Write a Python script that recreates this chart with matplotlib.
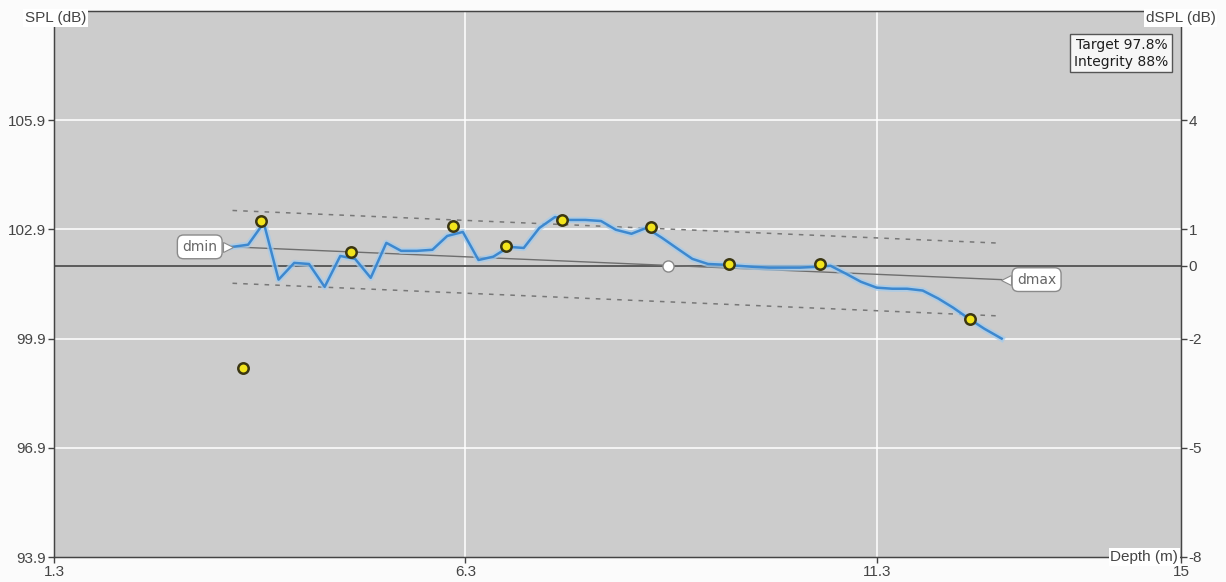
import matplotlib
matplotlib.use("Agg")
import matplotlib.pyplot as plt

# ---------------- data ----------------
depth = [3.47, 3.66, 3.85, 4.03, 4.22, 4.40, 4.59, 4.78, 4.96, 5.15,
         5.34, 5.52, 5.71, 5.90, 6.08, 6.27, 6.46, 6.64, 6.83, 7.01,
         7.20, 7.39, 7.57, 7.76, 7.95, 8.13, 8.32, 8.50, 8.69, 8.88,
         9.06, 9.25, 9.44, 9.62, 9.81, 9.99, 10.18, 10.37, 10.55, 10.74,
         10.93, 11.11, 11.30, 11.49, 11.67, 11.86, 12.05, 12.23, 12.42, 12.61,
         12.82]
spl = [102.42, 102.48, 103.08, 101.52, 101.98, 101.95, 101.32, 102.17, 102.09, 101.57,
       102.53, 102.31, 102.31, 102.34, 102.72, 102.83, 102.06, 102.15, 102.42, 102.39,
       102.94, 103.24, 103.16, 103.16, 103.13, 102.89, 102.78, 102.94, 102.67, 102.37,
       102.09, 101.95, 101.93, 101.90, 101.87, 101.85, 101.85, 101.85, 101.87, 101.90,
       101.68, 101.46, 101.30, 101.27, 101.27, 101.22, 101.00, 100.75, 100.45, 100.17,
       99.90]

pts_depth = [3.60, 3.82, 4.91, 6.15, 6.79, 7.48, 8.56, 9.51, 10.61, 12.43]
pts_spl = [99.08, 103.13, 102.28, 103.00, 102.45, 103.16, 102.97, 101.95, 101.95, 100.45]

trend_depth = [3.47, 12.82]
trend_spl = [102.42, 101.52]
band = 1.0
ref_level = 101.9
mid_depth = 8.76

x_ticks = [1.3, 6.3, 11.3, 15]
y_ticks = [93.9, 96.9, 99.9, 102.9, 105.9]
dy_ticks = [-8, -5, -2, 0, 1, 4]

target_txt = "Target 97.8%\nIntegrity 88%"

# ---------------- figure ----------------
W, H = 1226, 582
fig = plt.figure(figsize=(W / 100, H / 100), dpi=100, facecolor="#fbfbfb")
ax = fig.add_axes([54 / W, 1 - 557 / H, (1181 - 54) / W, (557 - 11) / H])
ax.set_facecolor("#cccccc")
ax.set_xlim(1.3, 15)
ax.set_ylim(93.9, 108.9)

axfont = "Liberation Sans"
tcol = "#444444"
for s in ax.spines.values():
    s.set_color(tcol)
    s.set_linewidth(1.0)

ax.set_xticks(x_ticks)
ax.set_xticklabels([f"{v:g}" for v in x_ticks], fontfamily=axfont, fontsize=11, color=tcol)
ax.set_yticks(y_ticks)
ax.set_yticklabels([f"{v:.1f}" for v in y_ticks], fontfamily=axfont, fontsize=11, color=tcol)
ax.tick_params(axis="both", direction="out", length=4, width=1, color=tcol, pad=1.5)

# grid (white)
for v in [96.9, 99.9, 102.9, 105.9]:
    ax.axhline(v, color="white", lw=1.1, zorder=1)
for v in [6.3, 11.3]:
    ax.axvline(v, color="white", lw=1.1, zorder=1)

# zero reference line
ax.axhline(ref_level, color="#5a5a5a", lw=1.4, zorder=2)

# trend and bands
ax.plot(trend_depth, trend_spl, color="#6e6e6e", lw=1.0, zorder=3)
ax.plot(trend_depth, [v + band for v in trend_spl], color="#777777", lw=1.1,
        ls=(0, (3, 4)), zorder=3)
ax.plot(trend_depth, [v - band for v in trend_spl], color="#777777", lw=1.1,
        ls=(0, (3, 4)), zorder=3)

# main series with soft glow
ax.plot(depth, spl, color="#a4cbec", lw=4.5, alpha=0.75, zorder=4, solid_joinstyle="round")
ax.plot(depth, spl, color="#3d88cf", lw=1.8, zorder=5, solid_joinstyle="round")

# yellow points
ax.plot(pts_depth, pts_spl, ls="none", marker="o", ms=7.5, mfc="#f2e41c",
        mec="#3b3612", mew=1.8, zorder=7)

# mid point
ax.plot([mid_depth], [ref_level], ls="none", marker="o", ms=8, mfc="white",
        mec="#888888", mew=1, zorder=7)

# dmin / dmax labels
lblfont = "DejaVu Sans"
ax.annotate("dmin", xy=(trend_depth[0], trend_spl[0]), xytext=(-11, 0),
            textcoords="offset points", ha="right", va="center",
            fontsize=10, fontfamily=lblfont, color="#666666", zorder=8,
            bbox=dict(boxstyle="round,pad=0.35,rounding_size=0.45", fc="white", ec="#8a8a8a", lw=1))
ax.annotate("dmax", xy=(trend_depth[1], trend_spl[1]), xytext=(11, 0),
            textcoords="offset points", ha="left", va="center",
            fontsize=10, fontfamily=lblfont, color="#666666", zorder=8,
            bbox=dict(boxstyle="round,pad=0.35,rounding_size=0.45", fc="white", ec="#8a8a8a", lw=1))
# small pointers
ax.annotate("", xy=(trend_depth[0], trend_spl[0]), xytext=(-7, 0), textcoords="offset points",
            zorder=9)
ax.plot([trend_depth[0] - 0.05], [trend_spl[0]], marker=">", ms=7, mfc="white",
        mec="#8a8a8a", mew=0.8, ls="none", zorder=9)
ax.plot([trend_depth[1] + 0.05], [trend_spl[1]], marker="<", ms=7, mfc="white",
        mec="#8a8a8a", mew=0.8, ls="none", zorder=9)

# right axis
ax2 = ax.twinx()
ax2.set_ylim(93.9 - ref_level, 108.9 - ref_level)
ax2.set_yticks(dy_ticks)
ax2.set_yticklabels([f"{v:g}" for v in dy_ticks], fontfamily=axfont, fontsize=11, color=tcol)
ax2.tick_params(axis="y", direction="out", length=4, width=1, color=tcol, pad=1.5)
for s in ax2.spines.values():
    s.set_color(tcol)

# info box
ax.text(0.9885, 0.95, target_txt, transform=ax.transAxes, ha="right", va="top",
        fontsize=10, fontfamily=lblfont, color="#1e1e1e", linespacing=1.2, zorder=10,
        bbox=dict(boxstyle="square,pad=0.28", fc="#f6f6f6", ec="#555555", lw=1))

# axis titles
fig.text(86 / W, 1 - 18 / H, "SPL (dB)", ha="right", va="center", fontfamily=axfont,
         fontsize=11, color=tcol,
         bbox=dict(boxstyle="square,pad=0.1", fc="white", ec="none"))
fig.text(1146 / W, 1 - 18 / H, "dSPL (dB)", ha="left", va="center", fontfamily=axfont,
         fontsize=11, color=tcol,
         bbox=dict(boxstyle="square,pad=0.1", fc="white", ec="none"))
fig.text(1178 / W, 1 - 557 / H, "Depth (m)", ha="right", va="center", fontfamily=axfont,
         fontsize=11, color=tcol, zorder=20,
         bbox=dict(boxstyle="square,pad=0.1", fc="white", ec="none"))

fig.savefig("out.png", dpi=100, facecolor=fig.get_facecolor())
